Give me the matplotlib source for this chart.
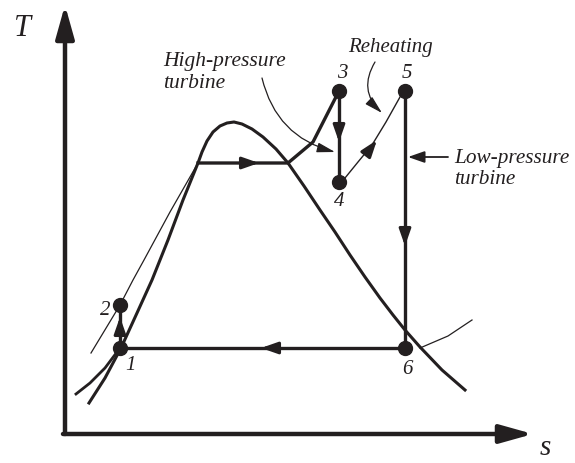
import numpy as np
import matplotlib.pyplot as plt

# diagram units follow the picture: s to the right, T upwards (y axis inverted below)
states = ['1', '2', '3', '4', '5', '6']
state_s = [120, 120, 339, 339, 405, 405]
state_T = [348, 305, 91, 182, 91, 348]

# saturation dome
dome_s = [89, 105, 121, 137, 152, 168, 183, 198, 202, 207, 213, 220, 227, 234,
          242, 252, 263, 276, 288, 304, 320, 335, 350, 365, 380, 393, 405,
          420, 442, 465]
dome_T = [403, 378, 348, 313, 280, 240, 200, 163, 152, 141, 132, 126, 123, 122,
          124, 129, 137, 149, 163, 186, 210, 232, 255, 277, 298, 315, 330,
          347, 370, 390]

# high-pressure isobar (compressed liquid part, thin) and boiler path 2-3
liquid_s = [91, 120, 133, 144, 170, 198]
liquid_T = [353, 305, 280, 260, 212, 163]
boiler_s = [198, 288, 313, 339]
boiler_T = [163, 163, 142, 91]

# reheat path 4-5
reheat_s = [339, 345, 358, 372, 386, 400, 405]
reheat_T = [182, 178, 162, 145, 122, 97, 91]

# low-pressure isobar outside the cycle
lp_left_s = [76, 90, 105, 120]
lp_left_T = [394, 383, 368, 348]
lp_right_s = [420, 448, 472]
lp_right_T = [348, 336, 320]

ink = '#231f20'
font = dict(family='Liberation Serif', style='italic', color=ink)

fig = plt.figure(figsize=(5.75, 4.63), dpi=100)
ax = fig.add_axes([0, 0, 1, 1])
ax.set_xlim(0, 575)
ax.set_ylim(463, 0)
ax.axis('off')


def head(tip, base, scale=10, hl=1.0, hw=0.35, lw=2.2):
    ax.annotate('', xy=tip, xytext=base,
                arrowprops=dict(arrowstyle='-|>,head_length=%g,head_width=%g' % (hl, hw),
                                color=ink, lw=lw, shrinkA=0, shrinkB=0,
                                mutation_scale=scale))


# axes with arrows
head((65, 5), (65, 434), scale=20, hl=1.0, hw=0.28, lw=3.2)
head((533, 434), (63, 434), scale=20, hl=1.0, hw=0.28, lw=3.2)
ax.text(22, 36, 'T', fontsize=22, ha='center', va='baseline', **font)
ax.text(545, 455, 's', fontsize=21, ha='center', va='baseline', **font)

# dome and thin isobars
ax.plot(dome_s, dome_T, color=ink, lw=2.2, solid_joinstyle='round')
ax.plot(liquid_s, liquid_T, color=ink, lw=0.9)
ax.plot(lp_left_s, lp_left_T, color=ink, lw=2.0)
ax.plot(lp_right_s, lp_right_T, color=ink, lw=0.9)

# cycle
ax.plot(state_s[0:2], state_T[0:2], color=ink, lw=2.4)
ax.plot(boiler_s, boiler_T, color=ink, lw=2.4)
ax.plot(state_s[2:4], state_T[2:4], color=ink, lw=2.4)
ax.plot(reheat_s, reheat_T, color=ink, lw=1.0)
ax.plot(state_s[4:6], state_T[4:6], color=ink, lw=2.4)
ax.plot([state_s[5], state_s[0]], [state_T[5], state_T[0]], color=ink, lw=2.4)
ax.plot(state_s, state_T, 'o', color=ink, ms=10, ls='none')

# direction arrows on the cycle
head((120, 317), (120, 331))
head((259, 163), (243, 163))
head((339, 142), (339, 127))
head((377, 140), (367, 153))
head((405, 246), (405, 230))
head((261, 348), (277, 348))

# state labels
label_pos = [(130, 370), (105, 315), (342, 78), (339, 206), (407, 78), (407, 374)]
for name, (x, y) in zip(states, label_pos):
    ax.text(x, y, name, fontsize=15, ha='center', va='baseline', **font)

# annotations
ax.text(163, 66, 'High-pressure', fontsize=15.5, ha='left', va='baseline', **font)
ax.text(163, 88, 'turbine', fontsize=15.5, ha='left', va='baseline', **font)
ax.annotate('', xy=(335, 152), xytext=(262, 78),
            arrowprops=dict(arrowstyle='-|>,head_length=1.1,head_width=0.3',
                            connectionstyle='arc3,rad=0.3', color=ink, lw=0.9,
                            shrinkA=0, shrinkB=0, mutation_scale=10))

ax.text(348, 52, 'Reheating', fontsize=15, ha='left', va='baseline', **font)
ax.annotate('', xy=(382, 113), xytext=(375, 62),
            arrowprops=dict(arrowstyle='-|>,head_length=1.1,head_width=0.3',
                            connectionstyle='arc3,rad=0.4', color=ink, lw=0.9,
                            shrinkA=0, shrinkB=0, mutation_scale=10))

ax.text(454, 163, 'Low-pressure', fontsize=15.3, ha='left', va='baseline', **font)
ax.text(454, 184, 'turbine', fontsize=15.3, ha='left', va='baseline', **font)
head((408, 157), (448, 157), lw=1.3)

fig.savefig('out.png', dpi=100)
